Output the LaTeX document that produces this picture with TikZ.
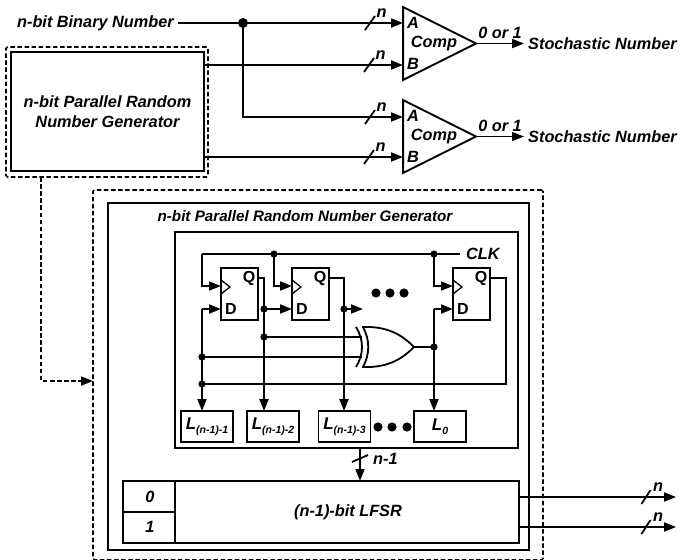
\documentclass[tikz,border=0pt]{standalone}
\usepackage{fontspec}
\setmainfont{Liberation Sans}
\usetikzlibrary{arrows.meta,calc,positioning,shapes.geometric}
\tikzset{
  wire/.style={line width=1.8pt},
  tip/.style={-{Triangle[length=12pt,width=9pt]}},
  blockbox/.style={draw, line width=2pt, inner sep=0pt, outer sep=0pt},
  dashbox/.style={draw, line width=1.7pt, dash pattern=on 4.5pt off 2.6pt, inner sep=0pt, outer sep=0pt},
  compgate/.style={draw, line width=2pt, isosceles triangle, isosceles triangle stretches,
    minimum width=73pt, minimum height=73pt, inner sep=0pt, outer sep=0pt, anchor=lower side},
  txt/.style={font=\fontsize{16.3}{18}\selectfont\bfseries\itshape, inner sep=0pt, align=center},
  pin/.style={font=\fontsize{16}{18}\selectfont\bfseries, inner sep=0pt},
}
\newcommand{\busmark}[3]{\draw[wire] (#1-#3,#2+7) -- (#1+#3,#2-7);}
\newcommand{\Lsub}[1]{{\fontsize{17}{18}\selectfont L}\raisebox{-3.5pt}{\fontsize{10.5}{11}\selectfont #1}}
\begin{document}
\begin{tikzpicture}[x=1pt, y=-1pt]
  \useasboundingbox (0,0) rectangle (681,560);

  % === Top part: generator and two comparators ===
  \node[dashbox, rounded corners=1.5pt, minimum width=202pt, minimum height=130pt] (rngout) at (107,112) {};
  \node[blockbox, txt, minimum width=193pt, minimum height=119pt] (rng) at (107.5,111.5)
    {n-bit Parallel Random\\[2pt]Number Generator};
  \node[txt, anchor=east] (bin) at (174,23) {n-bit Binary Number};
  \foreach \nm/\y in {cmpa/43.5, cmpb/136.5} {
    \node[compgate] (\nm) at (403,\y) {};
    \node[txt] (\nm txt) at (434,\y) {Comp};
    \node[txt] (\nm zo) at (500,\y-10.5) {0 or 1};
    \node[txt, anchor=west] (\nm out) at (528,\y) {Stochastic Number};
    \node[txt] (\nm a) at (413,\y-21) {A};
    \node[txt] (\nm b) at (413,\y+20) {B};
    \draw[wire, tip, shorten >=4pt] (\nm.apex) -- (\nm out.west);
  }
  % Inputs of the comparators
  \coordinate (join) at (243,23);
  \coordinate (ina) at (403,23);
  \coordinate (inb) at (403,65);
  \coordinate (inc) at (403,117);
  \coordinate (ind) at (403,157);
  \draw[wire] (bin.east) ++(4,0) -- (join);
  \draw[wire, tip] (join) -- (ina);
  \draw[wire, tip] (join) |- (inc);
  \draw[wire, tip] (rng.east |- inb) -- (inb);
  \draw[wire, tip] (rng.east |- ind) -- (ind);
  \fill (join) circle (5pt);
  \foreach \x/\y in {370/23, 369/65, 370/117, 369/157} {
    \busmark{\x}{\y}{5}
    \node[txt] at (\x+11.5,\y-10) {n};
  }

  % === Expanded generator ===
  \node[dashbox, rounded corners=1.5pt, minimum width=450pt, minimum height=370pt] (big) at (318,375) {};
  \node[blockbox, minimum width=421pt, minimum height=347pt] (gen) at (318.5,376.5) {};
  \node[txt, font=\fontsize{15.2}{18}\selectfont\bfseries\itshape] (gentxt) at (305,216) {n-bit Parallel Random Number Generator};
  \node[blockbox, minimum width=343pt, minimum height=216pt] (inner) at (346.5,340) {};
  \coordinate (link) at (93,381);
  \draw[dashbox, tip] (41,177) |- (link);

  % Flip-flops
  \foreach \nm/\x in {ffa/221, ffb/292, ffc/453} {
    \node[draw, line width=1.6pt, minimum width=37pt, minimum height=52pt, inner sep=0pt, outer sep=0pt] (\nm) at (\x+18.5,294) {};
    \draw[line width=1.3pt] (\x,280) -- (\x+9,287) -- (\x,294);
    \node[pin] (\nm q) at (\x+28,278) {Q};
    \node[pin] (\nm d) at (\x+10,308.5) {D};
  }
  % Latches
  \foreach \nm/\x/\lab in {la/207/{(n-1)-1}, lb/273/{(n-1)-2}, lc/344.5/{(n-1)-3}, ld/440/{0}} {
    \node[blockbox, line width=1.8pt, txt, minimum width=52pt, minimum height=31pt] (\nm) at (\x,426.5) {\Lsub{\lab}};
  }
  % Clock
  \node[txt, anchor=west] (clk) at (466,254) {CLK};
  \coordinate (ca) at (202,254);
  \coordinate (cb) at (274,254);
  \coordinate (cc) at (434,254);
  \draw[wire] (ca) -- (460,254);
  \draw[wire, tip] (ca) |- (ffa.west |- 0,286);
  \draw[wire, tip] (cb) |- (ffb.west |- 0,286);
  \draw[wire, tip] (cc) |- (ffc.west |- 0,286);
  % Shift path
  \coordinate (qa) at (264,309);
  \coordinate (qb) at (344,309);
  \coordinate (xa) at (264,337);
  \coordinate (xb) at (202,357);
  \coordinate (fb) at (202,384);
  \coordinate (xo) at (434,347);
  \draw[wire, tip] (ffa.east |- 0,278) -| (qa) -- (lb.north -| qa);
  \draw[wire, tip] (qa) -- (ffb.west |- qa);
  \draw[wire, tip] (ffb.east |- 0,278) -| (qb) -- (lc.north -| qb);
  \draw[wire, tip] (qb) -- (363,309);
  \draw[wire, tip] (202,309) -- (ffa.west |- qa);
  \draw[wire, tip] (202,309) -- (la.north -| 202,0);
  \draw[wire, tip] (434,309) -- (ffc.west |- qa);
  \draw[wire, tip] (434,309) -- (ld.north -| 434,0);
  \draw[wire] (ffc.east |- 0,278) -- (506,278) |- (fb);
  \draw[wire] (xa) -- (362,337);
  \draw[wire] (xb) -- (362,357);
  \draw[wire] (414,347) -- (xo);
  % XOR gate
  \draw[line width=1.8pt, fill=white] (363,327) .. controls (390,326) and (404,337) .. (414,347)
    .. controls (404,357) and (390,368) .. (363,367) .. controls (370,354) and (370,340) .. cycle;
  \draw[line width=1.8pt] (356,367) .. controls (364,354) and (364,340) .. (356,327);
  % Junction dots and ellipses
  \foreach \p in {cb, cc, qa, qb, xa, xb, fb, xo} {
    \fill (\p) circle (3.6pt);
  }
  \foreach \x/\y in {376/293, 390/293, 404/293, 378/427, 392/427, 407/427} {
    \fill (\x,\y) circle (4.6pt);
  }

  % === LFSR ===
  \node[blockbox, minimum width=396pt, minimum height=62pt] (lfsr) at (321,512) {};
  \draw[line width=2pt] (175,481) -- (175,543);
  \draw[line width=2pt] (123,512) -- (175,512);
  \node[txt] (bita) at (150,497) {0};
  \node[txt] (bitb) at (150,527) {1};
  \node[txt] (lfsrtxt) at (348,512) {(n-1)-bit LFSR};
  \draw[wire, tip] (inner.south -| 360,0) -- (lfsr.north -| 360,0);
  \draw[wire] (352,462) -- (368,455);
  \node[txt, anchor=west] (busn) at (373,459) {n-1};
  \coordinate (outa) at (676,497);
  \coordinate (outb) at (676,527);
  \draw[wire, tip] (lfsr.east |- outa) -- (outa);
  \draw[wire, tip] (lfsr.east |- outb) -- (outb);
  \foreach \y in {497, 527} {
    \busmark{646}{\y}{4.5}
    \node[txt] at (658,\y-10) {n};
  }
\end{tikzpicture}
\end{document}
